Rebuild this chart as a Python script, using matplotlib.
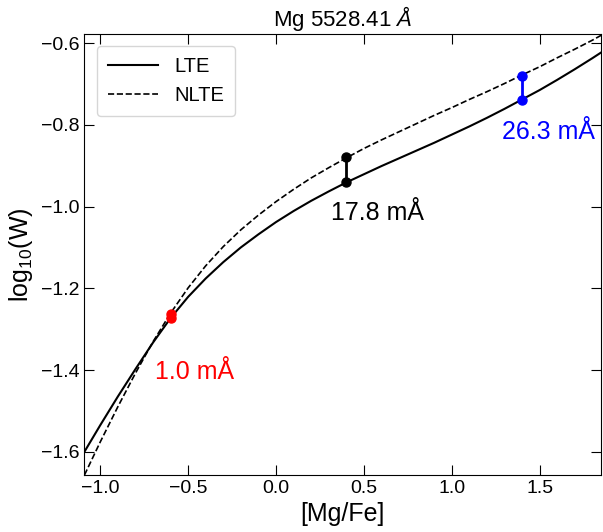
import matplotlib
matplotlib.use("Agg")
import matplotlib.pyplot as plt

plt.rcParams['font.family'] = ['Liberation Sans', 'DejaVu Sans']
plt.rcParams['mathtext.fontset'] = 'custom'
plt.rcParams['mathtext.rm'] = 'Liberation Sans'
plt.rcParams['mathtext.it'] = 'Liberation Sans:italic'

# curves
mgfe = [-1.09, -1.0, -0.9, -0.8, -0.7, -0.6, -0.5, -0.4, -0.3, -0.2, -0.1, 0.0, 0.1,
        0.2, 0.3, 0.4, 0.5, 0.6, 0.7, 0.8, 0.9, 1.0, 1.1, 1.2, 1.3, 1.4, 1.5, 1.6,
        1.7, 1.8, 1.85]
lte = [-1.600, -1.535, -1.465, -1.398, -1.333, -1.273, -1.221, -1.176, -1.136, -1.100,
       -1.068, -1.038, -1.011, -0.986, -0.963, -0.941, -0.921, -0.901, -0.882, -0.863,
       -0.844, -0.824, -0.804, -0.783, -0.761, -0.738, -0.715, -0.690, -0.664, -0.637,
       -0.623]
nlte = [-1.657, -1.576, -1.490, -1.408, -1.331, -1.261, -1.199, -1.145, -1.098, -1.057,
        -1.021, -0.988, -0.958, -0.930, -0.905, -0.881, -0.858, -0.837, -0.817, -0.797,
        -0.777, -0.758, -0.738, -0.719, -0.699, -0.678, -0.658, -0.636, -0.615, -0.593,
        -0.581]

# marked abundances
mark_x = [-0.6, 0.4, 1.4]
mark_lte = [-1.273, -0.941, -0.739]
mark_nlte = [-1.262, -0.879, -0.680]
mark_colors = ['red', 'black', 'blue']
mark_labels = ['1.0 mÅ', '17.8 mÅ', '26.3 mÅ']
label_x = [-0.69, 0.31, 1.285]
label_y = [-1.404, -1.016, -0.818]

fig = plt.figure(figsize=(6.03, 5.32), dpi=100)
ax = fig.add_axes([0.140, 0.107, 0.857, 0.829])

ax.plot(mgfe, lte, color='black', lw=1.5, ls='-', label='LTE')
ax.plot(mgfe, nlte, color='black', lw=1.2, ls='--', label='NLTE')

for x, y1, y2, c, txt, tx, ty in zip(mark_x, mark_lte, mark_nlte, mark_colors,
                                      mark_labels, label_x, label_y):
    ax.plot([x, x], [y1, y2], color=c, lw=2, marker='o', ms=6.5)
    ax.text(tx, ty, txt, color=c, fontsize=18, ha='left', va='center')

ax.set_xlim(-1.09, 1.85)
ax.set_ylim(-1.657, -0.578)
ax.set_xticks([-1.0, -0.5, 0.0, 0.5, 1.0, 1.5])
ax.set_yticks([-1.6, -1.4, -1.2, -1.0, -0.8, -0.6])
ax.tick_params(direction='in', top=True, right=True, length=7, labelsize=14)

ax.set_xlabel('[Mg/Fe]', fontsize=18)
ax.set_ylabel('log$_{10}$(W)', fontsize=18)
ax.set_title(r'Mg 5528.41 $\AA$', fontsize=16)
ax.legend(loc='upper left', fontsize=14.5, handlelength=2.5, borderpad=0.55,
          borderaxespad=0.6)

fig.savefig('out.png', dpi=100)
